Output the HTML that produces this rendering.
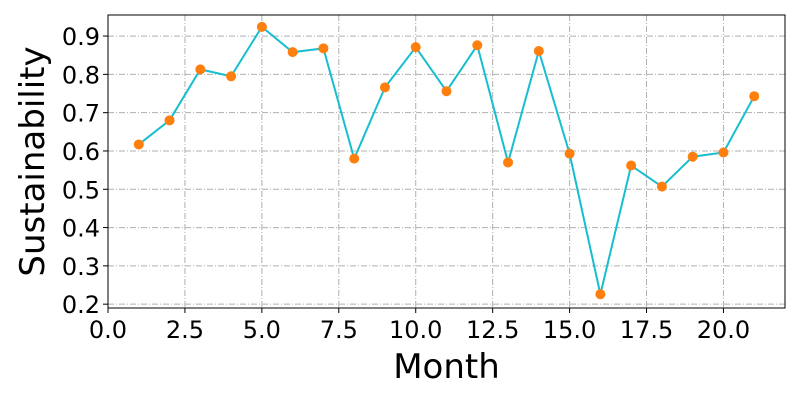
<!DOCTYPE html>
<html><head><meta charset="utf-8"><style>
body{margin:0;background:#fff;}
svg{display:block;font-family:"DejaVu Sans","Liberation Sans",sans-serif;}
</style></head><body>
<svg id="chart" width="800" height="400"></svg>
<script>
const months=[1,2,3,4,5,6,7,8,9,10,11,12,13,14,15,16,17,18,19,20,21];
const values=[0.617,0.68,0.813,0.795,0.924,0.858,0.868,0.58,0.766,0.871,0.756,0.876,0.57,0.861,0.593,0.226,0.562,0.507,0.585,0.596,0.743];
const xTicks=[0,2.5,5,7.5,10,12.5,15,17.5,20];
const xTickLabels=["0.0","2.5","5.0","7.5","10.0","12.5","15.0","17.5","20.0"];
const yTicks=[0.2,0.3,0.4,0.5,0.6,0.7,0.8,0.9];
const yTickLabels=["0.2","0.3","0.4","0.5","0.6","0.7","0.8","0.9"];

const L=108,R=785,T=15,B=308;
const xMin=0,xMax=22,yMin=0.19,yMax=0.955;
const xs=v=>L+(v-xMin)/(xMax-xMin)*(R-L);
const ys=v=>B-(v-yMin)/(yMax-yMin)*(B-T);
const svg=document.getElementById('chart');
const NS='http://www.w3.org/2000/svg';
function mk(tag,attrs,parent){const e=document.createElementNS(NS,tag);for(const k in attrs)e.setAttribute(k,attrs[k]);(parent||svg).appendChild(e);return e;}

const grid=mk('g',{});


xTicks.forEach((t,i)=>{
  const x=xs(t);
  mk('line',{x1:x,x2:x,y1:T,y2:B,stroke:'#b0b0b0','stroke-width':1,'stroke-dasharray':'6,2,1,2'},grid);
  mk('line',{x1:x,x2:x,y1:B,y2:B+5,stroke:'#000','stroke-width':1},grid);
  const tx=mk('text',{x:x,y:B+30,'font-size':24,'text-anchor':'middle',fill:'#000'});
  tx.textContent=xTickLabels[i];
  
  
});
yTicks.forEach((t,i)=>{
  const y=ys(t);
  mk('line',{x1:L,x2:R,y1:y,y2:y,stroke:'#b0b0b0','stroke-width':1,'stroke-dasharray':'6,2,1,2'},grid);
  mk('line',{x1:L-5,x2:L,y1:y,y2:y,stroke:'#000','stroke-width':1},grid);
  const tx=mk('text',{x:L-8,y:y+9,'font-size':24,'text-anchor':'end',fill:'#000'});
  tx.textContent=yTickLabels[i];
  
  
});

const pts=months.map((m,i)=>xs(m)+','+ys(values[i])).join(' ');
const line=mk('polyline',{points:pts,fill:'none',stroke:'#17becf','stroke-width':2});


months.forEach((m,i)=>{
  const c=mk('circle',{cx:xs(m),cy:ys(values[i]),r:5,fill:'#ff7f0e'});
  
  
});

const frame=mk('rect',{x:L,y:T,width:R-L,height:B-T,fill:'none',stroke:'#000','stroke-width':1});



const xt=mk('text',{x:(L+R)/2,y:378,'font-size':34,'text-anchor':'middle',fill:'#000'});
xt.textContent='Month';


const yt=mk('text',{x:0,y:0,'font-size':34,'text-anchor':'middle',fill:'#000',transform:'translate(44,'+((T+B)/2)+') rotate(-90)'});
yt.textContent='Sustainability';


</script>
</body></html>
